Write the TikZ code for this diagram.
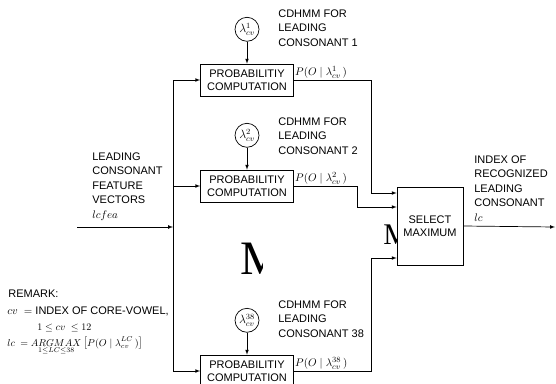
\documentclass[tikz,border=0pt]{standalone}
\usepackage{amsmath}
\usepackage{fontspec}
\setmainfont{Liberation Sans}
\newfontfamily\timesfont{Liberation Serif}
\usetikzlibrary{positioning,arrows}

\begin{document}
\begin{tikzpicture}[x=1pt,y=-1pt,>=latex,line width=0.7pt,node distance=22pt]
      \tikzstyle{probbox}=[rectangle,draw,fill=white,minimum width=93pt,minimum height=32pt,align=center,inner sep=1pt,font=\fontsize{11}{12.5}\selectfont]
      \tikzstyle{model}=[circle,draw,minimum size=24pt,inner sep=0pt,font=\fontsize{11.5}{13}\selectfont]
      \tikzstyle{note}=[anchor=north west,inner sep=0pt,align=left,font=\fontsize{11}{14.5}\selectfont]
      \tikzstyle{prob}=[anchor=south west,inner sep=1pt,font=\fontsize{11}{13}\selectfont]
      \tikzstyle{dots}=[anchor=north west,inner sep=0pt]
      \clip (0,0) rectangle (556,383);
      % models and probability boxes
      \node[probbox](prob1) at (247,80){PROBABILITIY\\COMPUTATION};
      \node[probbox](prob2) at (247,186){PROBABILITIY\\COMPUTATION};
      \node[probbox](prob38) at (247,371){PROBABILITIY\\COMPUTATION};
      \node[model,above=of prob1](lam1){$\lambda_{cv}^{1}$};
      \node[model,above=of prob2](lam2){$\lambda_{cv}^{2}$};
      \node[model,above=of prob38](lam38){$\lambda_{cv}^{38}$};
      \node[note](cd1) at (278,9){CDHMM FOR\\LEADING\\CONSONANT 1};
      \node[note](cd2) at (278,117){CDHMM FOR\\LEADING\\CONSONANT 2};
      \node[note](cd38) at (278,300){CDHMM FOR\\LEADING\\CONSONANT 38};
      \draw[->](lam1.south)--(prob1.north);
      \draw[->](lam2.south)--(prob2.north);
      \draw[->](lam38.south)--(prob38.north);
      % ellipsis marks
      \begin{scope}
        \clip (0,0) rectangle (262,383);
        \node[dots,font=\timesfont\fontsize{48}{48}\selectfont](vdots) at (240,243){M};
      \end{scope}
      \node[dots,font=\timesfont\fontsize{30}{30}\selectfont](vdots2) at (383,225){M};
      % select
      \node[rectangle,draw,fill=white,minimum width=66pt,minimum height=78pt,align=center,inner sep=1pt,font=\fontsize{11}{12.5}\selectfont](select) at (430,226){SELECT\\MAXIMUM};
      \coordinate (j1) at (371,193);
      \coordinate (j2) at (357,207);
      \coordinate (j3) at (371,258);
      \draw[->](prob1.east)-|(j1)--(j1-|select.west);
      \draw[->](prob2.east)-|(j2)--(j2-|select.west);
      \draw[->](prob38.east)-|(j3)--(j3-|select.west);
      \node[prob] at (prob1.east){$P(O\mid\lambda_{cv}^{1}\,)$};
      \node[prob] at (prob2.east){$P(O\mid\lambda_{cv}^{2}\,)$};
      \node[prob] at (prob38.east){$P(O\mid\lambda_{cv}^{38}\,)$};
      % input side
      \coordinate (bus) at (173,80);
      \coordinate (fin) at (77,227);
      \draw[->](fin)--(fin-|bus);
      \draw[->](bus)--(prob1.west);
      \draw[->](bus|-prob2.west)--(prob2.west);
      \draw[->](bus)|-(prob38.west);
      \node[note](feat) at (92,152){LEADING\\CONSONANT\\FEATURE\\VECTORS\\$lcfea$};
      % output side
      \coordinate (fout) at (555,227);
      \draw[->](select.east)--(fout);
      \node[note](index) at (474,155){INDEX OF\\RECOGNIZED\\LEADING\\CONSONANT\\$lc$};
      % remark
      \node[note](remark) at (8,290){REMARK:};
      \node[anchor=base west,inner sep=0pt,font=\fontsize{11}{13}\selectfont](rcv) at (7,314){$cv\;=$\ INDEX OF CORE-VOWEL,};
      \node[anchor=base west,inner sep=0pt,font=\fontsize{10}{12}\selectfont](rrange) at (37,330){$1\le cv\ \le 12$};
      \node[anchor=base west,inner sep=0pt,font=\fontsize{10}{12}\selectfont](rlc) at (7,346){$lc\;=\displaystyle\mathop{ARGMAX}\limits_{1\le LC\le 38}\left[P(O\mid\lambda_{cv}^{LC}\,)\right]$};
\end{tikzpicture}
\end{document}
